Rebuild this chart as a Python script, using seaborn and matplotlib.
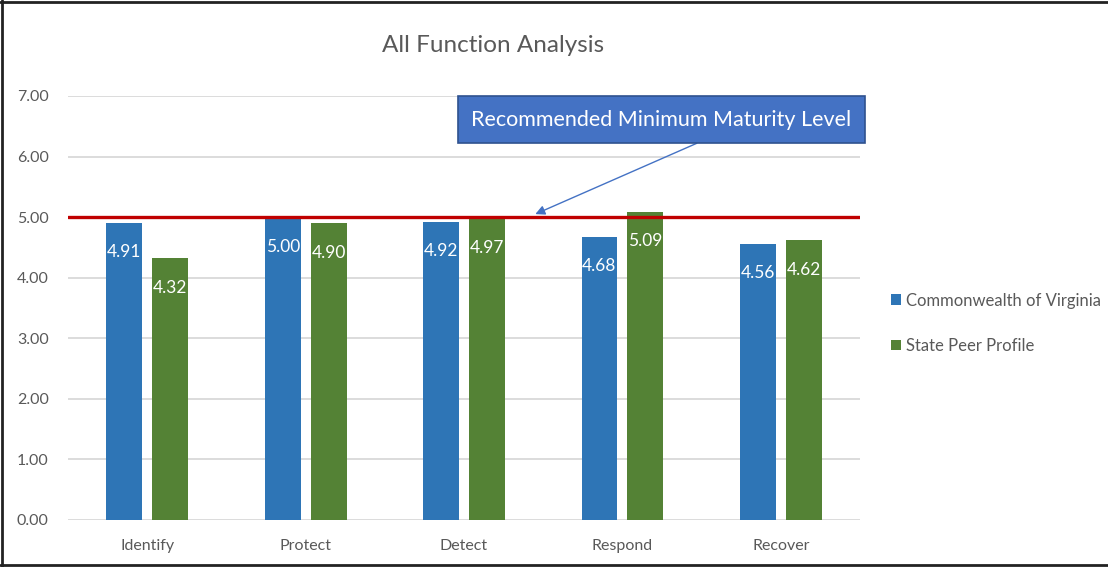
import pandas as pd
import matplotlib.pyplot as plt
import seaborn as sns

# colours
BLUE, GREEN = '#2E75B6', '#548235'
RED = '#C00000'
GRAY_TXT, GRAY_GRID = '#595959', '#D9D9D9'
BOX_FILL, BOX_EDGE = '#4472C4', '#2F528F'

# data
functions = ['Identify', 'Protect', 'Detect', 'Respond', 'Recover']
virginia = [4.91, 5.00, 4.92, 4.68, 4.56]
peers = [4.32, 4.90, 4.97, 5.09, 4.62]
series_names = ['Commonwealth of Virginia', 'State Peer Profile']
min_level = 5.0
yticks = [0, 1, 2, 3, 4, 5, 6, 7]

df = pd.DataFrame({
    'function': functions * 2,
    'score': virginia + peers,
    'series': [series_names[0]] * len(functions) + [series_names[1]] * len(functions),
})

sns.set_style('white')
plt.rcParams['font.family'] = ['Lato', 'DejaVu Sans']

fig = plt.figure(figsize=(11.08, 5.67), dpi=100)
ax = fig.add_axes([0.0614, 0.0829, 0.7148, 0.7478])

sns.barplot(data=df, x='function', y='score', hue='series',
            palette=[BLUE, GREEN], saturation=1, width=0.58, gap=0.22,
            linewidth=0, ax=ax, zorder=2)

ax.set_ylim(0, 7)
ax.set_xlim(-0.5, len(functions) - 0.5)
ax.set_yticks(yticks)
ax.set_yticklabels([f'{v:.2f}' for v in yticks])
ax.yaxis.grid(True, color=GRAY_GRID, linewidth=1.3, zorder=0)
ax.set_axisbelow(True)
for s in ax.spines.values():
    s.set_visible(False)
ax.tick_params(axis='both', length=0, labelsize=11.5, colors=GRAY_TXT)
ax.tick_params(axis='y', pad=14)
ax.tick_params(axis='x', pad=14)
ax.set_xlabel('')
ax.set_ylabel('')

# value labels inside bars
for cont in ax.containers:
    ax.bar_label(cont, fmt='%.2f', padding=-27, color='white', fontsize=12.5)

# minimum maturity line
ax.axhline(min_level, color=RED, linewidth=2.4, zorder=3)

# callout
ax.text(3.247, 6.61, 'Recommended Minimum Maturity Level', ha='center', va='center',
        color='white', fontsize=15.5,
        bbox=dict(boxstyle='square,pad=0.62', fc=BOX_FILL, ec=BOX_EDGE, lw=1.2),
        zorder=5)
ax.annotate('', xy=(2.45, 5.05), xytext=(3.47, 6.22),
            arrowprops=dict(arrowstyle='-|>', color=BOX_FILL, lw=1.0,
                            mutation_scale=14, shrinkA=0, shrinkB=0), zorder=4)

fig.text(0.445, 0.92, 'All Function Analysis', ha='center', va='center',
         fontsize=17.5, color=GRAY_TXT)

handles, labels = ax.get_legend_handles_labels()
ax.legend(handles, labels, loc='center left', bbox_to_anchor=(0.798, 0.43),
          bbox_transform=fig.transFigure, frameon=False, fontsize=12,
          labelcolor=GRAY_TXT, handlelength=0.6, handleheight=0.6,
          handletextpad=0.3, labelspacing=1.75, borderaxespad=0)

# outer frame
for xs, ys in [([0.002, 0.002], [0, 1]), ([0, 1], [0.996, 0.996]), ([0, 1], [0.003, 0.003])]:
    fig.add_artist(plt.Line2D(xs, ys, color='#222222', lw=2, transform=fig.transFigure))

fig.savefig('out.png', dpi=100)
